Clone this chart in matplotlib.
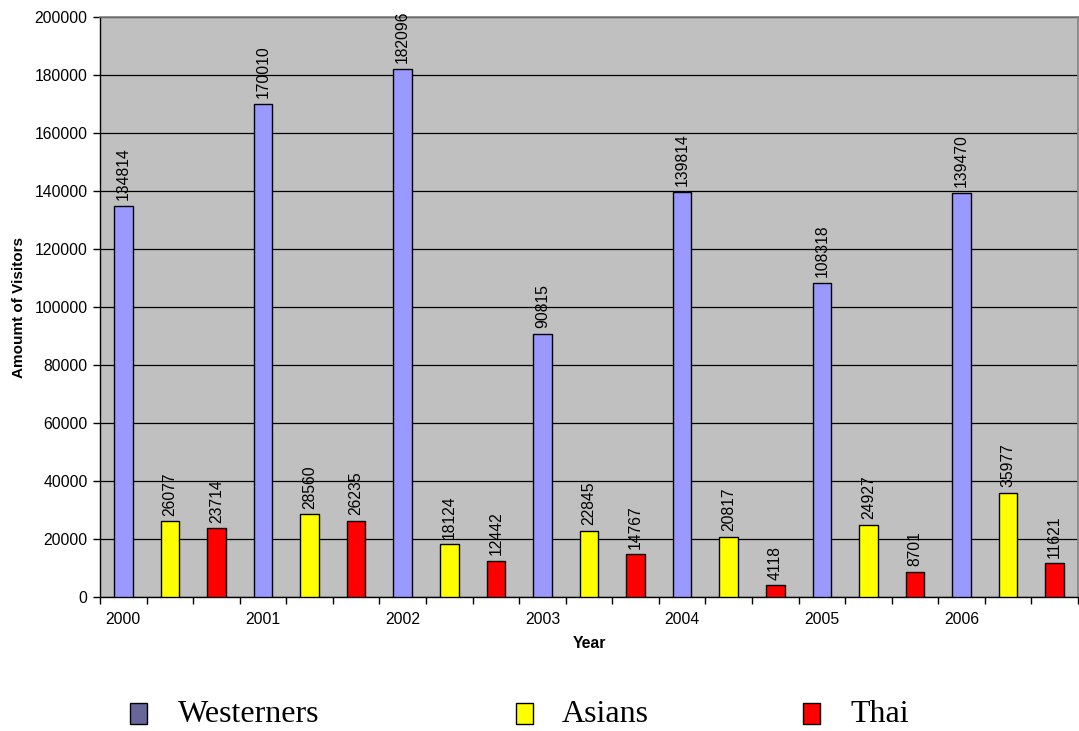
import matplotlib
matplotlib.use("Agg")
import matplotlib.pyplot as plt
from matplotlib.patches import Rectangle
import numpy as np

years = ["2000", "2001", "2002", "2003", "2004", "2005", "2006"]
westerners = [134814, 170010, 182096, 90815, 139814, 108318, 139470]
asians = [26077, 28560, 18124, 22845, 20817, 24927, 35977]
thai = [23714, 26235, 12442, 14767, 4118, 8701, 11621]

series_names = ["Westerners", "Asians", "Thai"]
bar_colors = ["#9999FF", "#FFFF00", "#FF0000"]
legend_colors = ["#666699", "#FFFF00", "#FF0000"]

plt.rcParams["font.family"] = ["Liberation Sans", "DejaVu Sans"]

W, H = 1079, 731
fig = plt.figure(figsize=(W / 100, H / 100), dpi=100)
ax = fig.add_axes([100 / W, 1 - 597 / H, 978 / W, 580 / H])
ax.set_facecolor("#C0C0C0")

n = len(years)
slots = 3
group_x = np.arange(n) * slots
for i, (vals, col) in enumerate(zip([westerners, asians, thai], bar_colors)):
    xs = group_x + i
    ax.bar(xs, vals, width=0.4, color=col, edgecolor="black",
           linewidth=1.0, zorder=3)
    for x, v in zip(xs, vals):
        ax.annotate(str(v), (x, v), xytext=(0, 4), textcoords="offset points",
                    rotation=90, ha="center", va="bottom", fontsize=11.3,
                    zorder=4)

ax.set_xlim(-0.5, n * slots - 0.5)
ax.set_ylim(0, 200000)
ax.set_yticks(np.arange(0, 200001, 20000))
ax.yaxis.grid(True, color="black", linewidth=0.9, zorder=1)
ax.set_axisbelow(True)

# category labels under the first bar of each group, ticks at every slot edge
ax.set_xticks(group_x)
ax.set_xticklabels(years)
ax.set_xticks(np.arange(-0.5, n * slots, 1), minor=True)
ax.tick_params(axis="x", which="major", length=0, pad=11, labelsize=11.3)
ax.tick_params(axis="x", which="minor", length=5, width=1, color="black")
ax.tick_params(axis="y", length=5, width=1, labelsize=11.3, pad=4)

for side in ["top", "right"]:
    ax.spines[side].set_color("#808080")
    ax.spines[side].set_linewidth(1.2)
for side in ["left", "bottom"]:
    ax.spines[side].set_color("black")
    ax.spines[side].set_linewidth(1.0)

ax.set_xlabel("Year", fontsize=11.3, fontweight="bold")
ax.set_ylabel("Amoumt of Visitors", fontsize=11, fontweight="bold")
ax.xaxis.set_label_coords(0.5, -0.068)
ax.yaxis.set_label_coords(-0.076, 0.5)

# legend row beneath the chart
marker_x = [130, 516, 803]
text_x = [178, 562, 850]
ly = 714
for name, col, mx, tx in zip(series_names, legend_colors, marker_x, text_x):
    fig.add_artist(Rectangle((mx / W, 1 - (ly + 10) / H), 17 / W, 21 / H,
                             transform=fig.transFigure, facecolor=col,
                             edgecolor="black", linewidth=1.0))
    fig.text(tx / W, 1 - ly / H, name, fontsize=23, va="center", ha="left",
             family=["Liberation Serif", "DejaVu Serif"])

fig.savefig("out.png", dpi=100)
